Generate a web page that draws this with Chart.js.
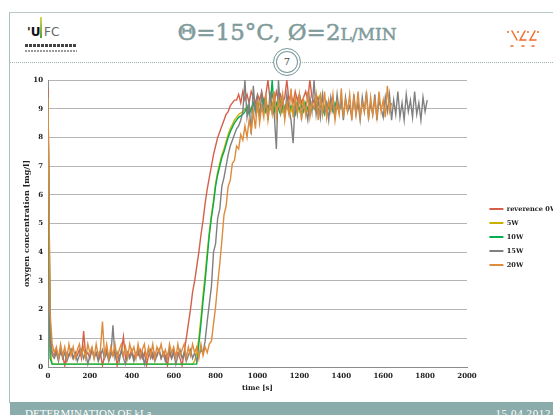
<!DOCTYPE html>
<html>
<head>
<meta charset="utf-8">
<script src="https://cdn.jsdelivr.net/npm/chart.js@4.4.1/dist/chart.umd.min.js"></script>
<style>
    html, body { margin: 0; padding: 0; background: #fff; }
    body { width: 553px; height: 415px; overflow: hidden; position: relative; font-family: 'DejaVu Serif', serif; }
    .frame-left { position: absolute; left: 9px; top: 12px; width: 1px; height: 391px; background: #aebfbf; }
    .frame-top { position: absolute; left: 9px; top: 12px; width: 544px; height: 1px; background: #b9c9c9; }
    .title { position: absolute; left: 0; width: 574px; top: 19px; text-align: center;
             color: #7f9b9b; font: 23px 'DejaVu Serif', serif; line-height: 26px;
             -webkit-text-stroke: 0.5px #7f9b9b; white-space: nowrap; }
    .title .sc { font-size: 17px; }
    .dots { position: absolute; left: 10px; top: 62px; width: 543px; border-top: 1px dotted #9fb3b3; }
    .page-no { position: absolute; left: 273px; top: 48px; width: 28px; height: 28px; box-sizing: border-box;
               border: 1px solid #7d9c9c; border-radius: 50%; background: #fff;
               box-shadow: inset 0 0 0 2px #fff, inset 0 0 0 3px #7d9c9c;
               text-align: center; font: 10px 'DejaVu Serif', serif; line-height: 26px; color: #444; }
    .logo-u { position: absolute; left: 27px; top: 25px; font: bold 12px 'DejaVu Sans', sans-serif; color: #111; }
    .logo-bar { position: absolute; left: 40px; top: 17px; width: 2px; height: 21px;
                background: linear-gradient(#d6d94a, #5c9c32); }
    .logo-fc { position: absolute; left: 44px; top: 25px; font: 12px 'DejaVu Sans', sans-serif; color: #666; }
    .logo-row1 { position: absolute; left: 25px; top: 44px; width: 52px; height: 3px;
                 background: repeating-linear-gradient(90deg, #444 0 3px, #fff 3px 4px); }
    .logo-row2 { position: absolute; left: 25px; top: 50px; width: 52px; height: 2px;
                 background: repeating-linear-gradient(90deg, #999 0 2px, #fff 2px 3px); }
    #chartBox { position: absolute; left: 0; top: 66px; width: 560px; height: 340px; }
    .footer { position: absolute; left: 10px; top: 402px; width: 543px; height: 13px; background: #8aacab; overflow: hidden; }
    .footer span { position: absolute; top: 5px; color: #fff; font: 11px 'Liberation Serif', serif; line-height: 12px; white-space: nowrap; }
    .footer .left { left: 15px; }
    .footer .right { right: 2px; letter-spacing: 0.6px; }
</style>
</head>
<body>
<div class="frame-left"></div>
<div class="frame-top"></div>

<div class="logo-u">'U</div>
<div class="logo-bar"></div>
<div class="logo-fc">FC</div>
<div class="logo-row1"></div>
<div class="logo-row2"></div>

<div class="title">Θ=15°C, Ø=2<span class="sc">L/MIN</span></div>

<svg style="position:absolute;left:504px;top:27px" width="40" height="24">
    <g stroke="#f26a2a" stroke-width="1.5" fill="none" stroke-linecap="round">
        <path d="M8 4 L13 13"/>
        <path d="M21 4 L16 13 L22 13"/>
        <path d="M31 4 L26 13 L32 13"/>
        <path d="M7 19 L9 19"/>
        <path d="M18 19 L20 19"/>
        <path d="M28 19 L30 19"/>
    </g>
    <g fill="#f26a2a">
        <circle cx="4" cy="5" r="1"/>
        <circle cx="14" cy="5" r="1"/>
        <circle cx="24" cy="5" r="1"/>
        <circle cx="34" cy="5" r="1"/>
    </g>
</svg>

<div class="dots"></div>
<div class="page-no">7</div>

<div id="chartBox"><canvas id="oxygenChart"></canvas></div>

<div class="footer">
    <span class="left">DETERMINATION OF kLa</span>
    <span class="right">15.04.2012</span>
</div>

<script>
// logged sample times [s]
const time = [
    0, 10, 20, 30, 40, 50, 60, 70, 80, 90,
    100, 110, 120, 130, 140, 150, 160, 170, 180, 190,
    200, 210, 220, 230, 240, 250, 260, 270, 280, 290,
    300, 310, 320, 330, 340, 350, 360, 370, 380, 390,
    400, 410, 420, 430, 440, 450, 460, 470, 480, 490,
    500, 510, 520, 530, 540, 550, 560, 570, 580, 590,
    600, 610, 620, 630, 640, 650, 660, 670, 680, 690,
    700, 710, 720, 730, 740, 750, 760, 770, 780, 790,
    800, 810, 820, 830, 840, 850, 860, 870, 880, 890,
    900, 910, 920, 930, 940, 950, 960, 970, 980, 990,
    1000, 1010, 1020, 1030, 1040, 1050, 1060, 1070, 1080, 1090,
    1100, 1110, 1120, 1130, 1140, 1150, 1160, 1170, 1180, 1190,
    1200, 1210, 1220, 1230, 1240, 1250, 1260, 1270, 1280, 1290,
    1300, 1310, 1320, 1330, 1340, 1350, 1360, 1370, 1380, 1390,
    1400, 1410, 1420, 1430, 1440, 1450, 1460, 1470, 1480, 1490,
    1500, 1510, 1520, 1530, 1540, 1550, 1560, 1570, 1580, 1590,
    1600, 1610, 1620, 1630, 1640, 1650, 1660, 1670, 1680, 1690,
    1700, 1710, 1720, 1730, 1740, 1750, 1760, 1770, 1780, 1790,
    1800, 1810
];

// oxygen concentration [mg/l] per run
const reference0W = [
    9.7, 1.3, 0.5, 0.4, 0.6, 0.3, 0.5, 0.4, 0.05, 0.5,
    0.4, 0.6, 0.3, 0.5, 0.4, 0.6, 0.3, 1.25, 0.4, 0.5,
    0.3, 0.6, 0.4, 0.5, 0.3, 0.5, 0.05, 0.4, 0.6, 0.3,
    0.5, 0.4, 0.6, 0.05, 0.4, 0.5, 1.05, 0.3, 0.5, 0.4,
    0.6, 0.3, 0.5, 0.4, 0.6, 0.3, 0.5, 0.05, 0.4, 0.6,
    0.3, 0.5, 0.4, 0.6, 0.3, 0.5, 0.4, 0.05, 0.5, 0.3,
    0.6, 0.4, 0.5, 0.3, 0.05, 0.5, 1.0, 1.5, 2.0, 2.6,
    3.0, 3.5, 4.0, 4.6, 5.1, 5.7, 6.2, 6.6, 7.0, 7.4,
    7.7, 8.0, 8.2, 8.4, 8.6, 8.8, 8.9, 9.1, 9.2, 9.3,
    9.3, 9.5, 9.2, 9.6, 9.3, 9.5, 9.2, 9.6, 9.4, 9.2,
    9.5, 9.3, 9.6, 9.2, 9.5, 10.0, 9.3, 9.5, 9.2, 9.6,
    9.3, 9.5, 9.2, 9.4, 10.0, 9.3, 9.5, 9.2, 9.6, 9.3,
    9.5, 9.2, 9.4, 9.6, 9.3, 10.0, 9.4, 9.2, 9.5, 9.3,
    9.4
];
const power5W = [
    9.0, 0.6, 0.1, 0.1, 0.1, 0.1, 0.1, 0.1, 0.1, 0.1,
    0.1, 0.1, 0.1, 0.1, 0.1, 0.1, 0.1, 0.1, 0.1, 0.1,
    0.1, 0.1, 0.1, 0.1, 0.1, 0.1, 0.1, 0.1, 0.1, 0.1,
    0.1, 0.1, 0.1, 0.1, 0.1, 0.1, 0.1, 0.1, 0.1, 0.1,
    0.1, 0.1, 0.1, 0.1, 0.1, 0.1, 0.1, 0.1, 0.1, 0.1,
    0.1, 0.1, 0.1, 0.1, 0.1, 0.1, 0.1, 0.1, 0.1, 0.1,
    0.1, 0.1, 0.1, 0.1, 0.1, 0.1, 0.1, 0.1, 0.1, 0.1,
    0.2, 0.5, 1.0, 1.7, 2.5, 3.2, 4.0, 4.7, 5.3, 5.8,
    6.4, 6.8, 7.1, 7.4, 7.6, 7.85, 8.1, 8.3, 8.45, 8.6,
    8.7, 8.8, 8.85, 8.9, 9.0, 8.9, 9.1, 8.9, 9.2, 9.0,
    8.9, 9.2, 9.0, 9.3, 8.9, 9.1, 9.0, 9.2, 8.9, 9.1,
    9.0, 9.3, 8.9, 9.1, 9.0, 9.2, 8.9, 9.1, 9.0, 9.2,
    8.9, 9.1, 9.3, 9.0, 8.9, 9.2, 9.0, 9.1, 8.9, 9.3,
    9.5, 9.0, 9.1, 8.9, 9.2, 9.0, 9.1, 8.9, 9.2, 9.0,
    9.1
];
const power10W = [
    9.2, 0.3, 0.1, 0.1, 0.1, 0.1, 0.1, 0.1, 0.1, 0.1,
    0.1, 0.1, 0.1, 0.1, 0.1, 0.1, 0.1, 0.1, 0.1, 0.1,
    0.1, 0.1, 0.1, 0.1, 0.1, 0.1, 0.1, 0.1, 0.1, 0.1,
    0.1, 0.1, 0.1, 0.1, 0.1, 0.1, 0.1, 0.1, 0.1, 0.1,
    0.1, 0.1, 0.1, 0.1, 0.1, 0.1, 0.1, 0.1, 0.1, 0.1,
    0.1, 0.1, 0.1, 0.1, 0.1, 0.1, 0.1, 0.1, 0.1, 0.1,
    0.1, 0.1, 0.1, 0.1, 0.1, 0.1, 0.1, 0.1, 0.1, 0.1,
    0.1, 0.1, 0.8, 1.5, 2.3, 3.0, 3.8, 4.6, 5.2, 5.7,
    6.3, 6.7, 7.0, 7.3, 7.5, 7.75, 8.0, 8.2, 8.35, 8.5,
    8.6, 8.7, 8.75, 8.8, 8.9, 9.1, 8.8, 9.0, 9.2, 8.9,
    9.1, 8.8, 9.0, 9.3, 8.9, 9.1, 9.0, 10.0, 8.9, 9.2,
    9.0, 8.8, 9.1, 9.0, 9.2, 8.9, 9.1, 9.0, 8.8, 9.2,
    9.0, 9.1, 8.9, 9.2, 9.0, 8.8, 9.1, 9.0, 9.2, 8.9,
    9.1, 9.0, 8.8, 9.2, 9.0, 9.1, 8.9, 9.2, 9.0, 9.1,
    9.0
];
const power15W = [
    9.5, 0.9, 0.4, 0.3, 0.5, 0.2, 0.6, 0.3, 0.5, 0.2,
    0.4, 0.6, 0.3, 0.5, 0.2, 0.4, 0.6, 0.3, 0.5, 0.1,
    0.4, 0.6, 0.3, 0.5, 0.2, 0.4, 0.6, 0.3, 0.5, 0.2,
    0.4, 1.45, 0.3, 0.5, 0.2, 0.6, 0.3, 0.1, 0.5, 0.3,
    0.5, 0.2, 0.4, 0.6, 0.3, 0.5, 0.1, 0.4, 0.6, 0.3,
    0.5, 0.2, 0.4, 0.6, 0.3, 0.5, 0.2, 0.4, 0.6, 0.3,
    0.5, 0.1, 0.4, 0.6, 0.3, 0.5, 0.2, 0.4, 0.6, 0.3,
    0.5, 0.2, 0.4, 0.6, 0.5, 0.9, 1.6, 2.2, 2.8, 4.0,
    4.3, 5.2, 5.5, 6.3, 6.6, 7.0, 7.4, 7.7, 7.9, 8.1,
    8.3, 8.4, 8.6, 8.9, 10.0, 8.7, 9.2, 8.1, 9.8, 8.9,
    9.4, 8.7, 9.5, 8.9, 9.3, 8.6, 9.6, 9.0, 8.8, 7.6,
    10.0, 8.9, 9.4, 8.7, 9.5, 9.0, 8.6, 7.8, 9.3, 8.8,
    9.5, 8.7, 9.2, 9.0, 8.6, 9.4, 8.9, 10.0, 8.8, 9.3,
    8.7, 9.5, 8.9, 9.2, 8.6, 9.4, 9.0, 8.7, 9.5, 8.9,
    9.3, 8.6, 9.4, 8.9, 9.1, 8.7, 9.5, 8.8, 9.2, 8.6,
    9.4, 8.9, 9.6, 8.7, 9.2, 8.8, 9.5, 8.6, 9.3, 9.0,
    8.7, 9.4, 8.9, 9.5, 8.6, 9.3, 8.8, 9.6, 8.7, 9.2,
    8.6, 9.5, 8.9, 9.3, 8.7, 9.6, 8.8, 9.2, 8.6, 9.4,
    8.9, 9.3
];
const power20W = [
    9.4, 1.9, 0.8, 0.5, 0.7, 0.3, 0.8, 0.4, 0.7, 0.3,
    0.8, 0.4, 0.7, 0.3, 0.6, 0.8, 0.4, 0.7, 0.3, 0.8,
    0.5, 0.7, 0.3, 0.8, 0.4, 0.6, 1.58, 0.4, 0.8, 0.3,
    0.7, 0.4, 0.8, 0.3, 0.6, 0.8, 0.4, 0.7, 0.3, 0.8,
    0.5, 0.7, 0.3, 0.8, 0.4, 0.6, 0.8, 0.3, 0.7, 0.4,
    0.8, 0.3, 0.7, 0.5, 0.8, 0.4, 0.6, 0.3, 0.8, 0.5,
    0.7, 0.3, 0.8, 0.4, 0.6, 0.8, 0.3, 0.7, 0.4, 0.8,
    0.5, 0.7, 0.3, 0.8, 0.4, 0.7, 0.5, 0.8, 0.9, 1.5,
    2.1, 2.9, 3.6, 4.4, 5.3, 5.6, 6.3, 6.5, 7.1, 7.2,
    7.7, 7.6, 8.1, 7.9, 8.4, 8.0, 8.6, 8.2, 8.9, 8.3,
    9.3, 8.5, 9.1, 8.7, 9.5, 8.6, 9.2, 8.8, 9.6, 8.7,
    9.3, 8.9, 9.5, 8.6, 9.2, 8.8, 9.7, 8.7, 9.4, 8.9,
    9.5, 8.6, 9.3, 8.8, 9.6, 8.7, 9.2, 9.0, 9.5, 8.6,
    9.4, 8.8, 9.6, 8.7, 9.3, 8.9, 9.5, 8.6, 9.2, 8.8,
    9.7, 8.7, 9.3, 8.9, 9.5, 8.6, 9.4, 8.8, 9.6, 8.7,
    9.2, 8.9, 9.5, 8.6, 9.4, 8.8, 9.3, 8.7, 9.6, 8.9,
    9.3, 8.7, 9.8, 8.9, 9.2
];

const seriesLabels = ['reverence 0W', '5W', '10W', '15W', '20W'];
const seriesValues = [reference0W, power5W, power10W, power15W, power20W];
const seriesColors = ['#d4604a', '#c9b000', '#00b050', '#808080', '#dc8c3c'];

const xMin = 0, xMax = 2000, xStep = 200;
const yMin = 0, yMax = 10, yStep = 1;

const axisFont = { family: 'DejaVu Serif', size: 7, weight: 'bold' };
const legendFont = { family: 'DejaVu Serif', size: 6.6, weight: 'bold' };
const textColor = '#222';

function toPoints(values) {
    return values.map((v, i) => ({ x: time[i], y: v }));
}

const datasets = seriesValues.map((values, i) => ({
    label: seriesLabels[i],
    data: toPoints(values),
    borderColor: seriesColors[i],
    backgroundColor: seriesColors[i],
    borderWidth: 1.4,
    pointRadius: 0,
    tension: 0,
    yAxisID: 'y',
    // later runs are painted over earlier ones
    order: seriesValues.length - i
}));

const ctx = document.getElementById('oxygenChart').getContext('2d');
const oxygenChart = new Chart(ctx, {
    type: 'line',
    data: { datasets: datasets },
    options: {
        responsive: true,
        maintainAspectRatio: false,
        animation: false,
        layout: { padding: { top: 14, bottom: 12, left: 0, right: 0 } },
        scales: {
            x: {
                type: 'linear',
                min: xMin,
                max: xMax,
                ticks: {
                    stepSize: xStep,
                    font: axisFont,
                    color: textColor,
                    padding: 5,
                    maxRotation: 0,
                    callback: (value) => String(value)
                },
                grid: { display: false, drawTicks: false },
                border: { color: '#8c8c8c', width: 1 },
                title: {
                    display: true,
                    text: 'time [s]',
                    font: axisFont,
                    color: textColor,
                    padding: { top: 0, bottom: 1.5 }
                },
                afterFit: (scale) => { scale.height = 27; }
            },
            y: {
                type: 'linear',
                min: yMin,
                max: yMax,
                ticks: {
                    stepSize: yStep,
                    font: axisFont,
                    color: textColor,
                    padding: 5,
                    callback: (value) => String(value)
                },
                grid: { color: '#b5b5b5', drawTicks: false },
                border: { color: '#8c8c8c', width: 1 },
                title: {
                    display: true,
                    text: 'oxygen concentration [mg/l]',
                    font: { family: 'DejaVu Serif', size: 8, weight: 'bold' },
                    color: textColor,
                    padding: { top: 22, bottom: 0 }
                },
                afterFit: (scale) => { scale.width = 48; }
            },
            // empty spacer between plot and legend
            yRight: {
                type: 'linear',
                position: 'right',
                grid: { display: false, drawTicks: false },
                border: { display: false },
                ticks: { display: false },
                afterFit: (scale) => { scale.width = 15; }
            }
        },
        plugins: {
            legend: {
                position: 'right',
                align: 'center',
                maxWidth: 78,
                labels: {
                    boxWidth: 14,
                    boxHeight: 2,
                    padding: 7.4,
                    font: legendFont,
                    color: textColor,
                    sort: (a, b) => a.datasetIndex - b.datasetIndex,
                    generateLabels: (chart) => {
                        const items = Chart.defaults.plugins.legend.labels.generateLabels(chart);
                        items.forEach(item => {
                            item.fillStyle = seriesColors[item.datasetIndex];
                            item.lineWidth = 0;
                        });
                        return items;
                    }
                }
            },
            tooltip: { enabled: false }
        }
    }
});
</script>
</body>
</html>
